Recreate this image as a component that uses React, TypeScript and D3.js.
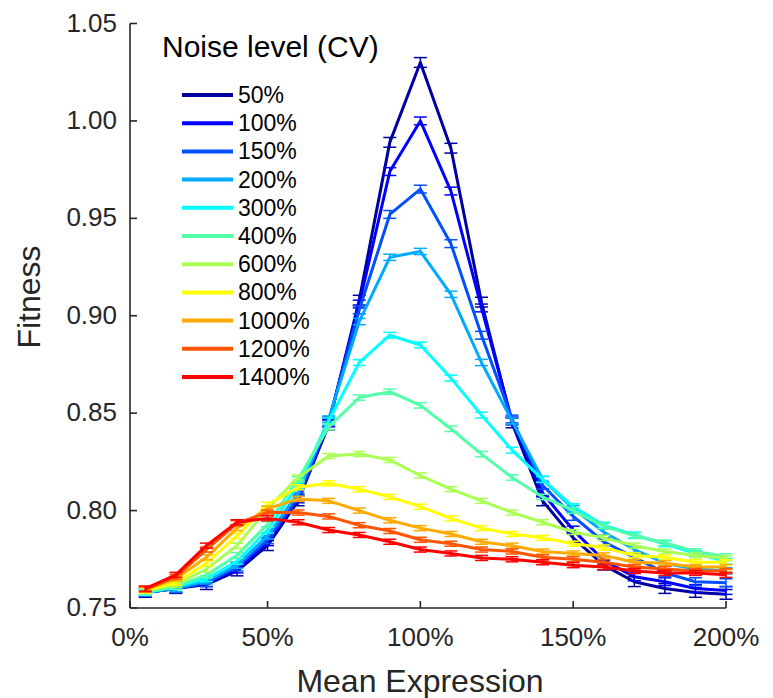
import React from "react";
import * as d3 from "d3";

const xValues = [10, 20, 30, 40, 50, 60, 70, 80, 90, 100, 110, 120, 130, 140, 150, 160, 170, 180, 190, 200];

const seriesNames = ["50%", "100%", "150%", "200%", "300%", "400%", "600%", "800%", "1000%", "1200%", "1400%"];
const seriesColors = ["#0000a0", "#0000ff", "#0050ff", "#00aaff", "#00ffff", "#55ffaa", "#aaff55", "#ffff00", "#ffaa00", "#ff5500", "#ff0000"];

const cv50 = [0.758, 0.760, 0.762, 0.769, 0.782, 0.805, 0.844, 0.908, 0.989, 1.030, 0.986, 0.907, 0.845, 0.805, 0.786, 0.772, 0.7635, 0.760, 0.758, 0.757];
const cv100 = [0.758, 0.760, 0.763, 0.770, 0.784, 0.806, 0.845, 0.906, 0.974, 1.000, 0.964, 0.904, 0.846, 0.809, 0.790, 0.7745, 0.766, 0.7635, 0.760, 0.759];
const cv150 = [0.758, 0.760, 0.763, 0.771, 0.785, 0.807, 0.846, 0.903, 0.952, 0.965, 0.937, 0.890, 0.847, 0.813, 0.797, 0.784, 0.776, 0.768, 0.7635, 0.763];
const cv200 = [0.758, 0.760, 0.764, 0.772, 0.787, 0.809, 0.847, 0.897, 0.930, 0.933, 0.911, 0.876, 0.846, 0.816, 0.801, 0.789, 0.780, 0.773, 0.770, 0.769];
const cv300 = [0.758, 0.761, 0.765, 0.774, 0.790, 0.813, 0.846, 0.876, 0.890, 0.885, 0.868, 0.849, 0.831, 0.816, 0.802, 0.7925, 0.7875, 0.783, 0.778, 0.774];
const cv400 = [0.758, 0.761, 0.767, 0.777, 0.793, 0.816, 0.843, 0.858, 0.861, 0.854, 0.842, 0.829, 0.817, 0.807, 0.800, 0.792, 0.787, 0.7835, 0.779, 0.7765];
const cv600 = [0.759, 0.762, 0.770, 0.782, 0.801, 0.817, 0.828, 0.829, 0.826, 0.818, 0.811, 0.805, 0.799, 0.794, 0.789, 0.786, 0.782, 0.779, 0.777, 0.7755];
const cv800 = [0.759, 0.763, 0.773, 0.787, 0.803, 0.812, 0.814, 0.811, 0.807, 0.802, 0.796, 0.791, 0.788, 0.786, 0.783, 0.781, 0.777, 0.776, 0.7735, 0.7735];
const cv1000 = [0.7595, 0.765, 0.776, 0.791, 0.801, 0.806, 0.805, 0.800, 0.795, 0.791, 0.788, 0.784, 0.782, 0.779, 0.778, 0.777, 0.7735, 0.773, 0.771, 0.771];
const cv1200 = [0.7595, 0.766, 0.780, 0.7935, 0.799, 0.799, 0.797, 0.7925, 0.7895, 0.785, 0.783, 0.780, 0.779, 0.776, 0.775, 0.7735, 0.771, 0.770, 0.769, 0.769];
const cv1400 = [0.760, 0.767, 0.782, 0.794, 0.796, 0.794, 0.790, 0.7875, 0.784, 0.780, 0.778, 0.7757, 0.775, 0.7735, 0.772, 0.771, 0.769, 0.768, 0.768, 0.767];

const seriesValues = [cv50, cv100, cv150, cv200, cv300, cv400, cv600, cv800, cv1000, cv1200, cv1400];
const seriesErrors = [0.0025, 0.002, 0.002, 0.0016, 0.0015, 0.0014, 0.0013, 0.0013, 0.0013, 0.0013, 0.0013];

const xTickValues = [5, 50, 100, 150, 200];
const xTickLabels = ["0%", "50%", "100%", "150%", "200%"];
const yTickValues = [0.75, 0.8, 0.85, 0.9, 0.95, 1.0, 1.05];

const legendTitle = "Noise level (CV)";
const xLabel = "Mean Expression";
const yLabel = "Fitness";

const W = 773;
const H = 698;
const FONT = "'Liberation Sans', Arial, Helvetica, sans-serif";
const AXIS = "#262626";

export default function App() {
  const x = d3.scaleLinear().domain([5, 200]).range([130, 726]);
  const y = d3.scaleLinear().domain([0.75, 1.05]).range([608, 23.5]);
  const line = d3
    .line<[number, number]>()
    .x((d) => x(d[0]))
    .y((d) => y(d[1]));
  const cap = 6.5;

  return (
    <svg
      width={W}
      height={H}
      style={{ position: "absolute", left: 0, top: 0, background: "#fff" }}
      fontFamily={FONT}
    >
      {/* data */}
      {seriesValues.map((vals, si) => {
        const pts = vals.map((v, i) => [xValues[i], v] as [number, number]);
        const err = seriesErrors[si];
        const col = seriesColors[si];
        return (
          <g key={si}>
            <path d={line(pts) || ""} fill="none" stroke={col} strokeWidth={3} strokeLinejoin="round" />
            {pts.map((p, i) => {
              const cx = x(p[0]);
              const y1 = y(p[1] + err);
              const y2 = y(p[1] - err);
              return (
                <g key={i} stroke={col} strokeWidth={1.5}>
                  <line x1={cx} x2={cx} y1={y1} y2={y2} />
                  <line x1={cx - cap} x2={cx + cap} y1={y1} y2={y1} />
                  <line x1={cx - cap} x2={cx + cap} y1={y2} y2={y2} />
                </g>
              );
            })}
          </g>
        );
      })}

      {/* axes */}
      <g stroke={AXIS} strokeWidth={1.6} fill="none">
        <line x1={x(5)} x2={x(200)} y1={y(0.75)} y2={y(0.75)} />
        <line x1={x(5)} x2={x(5)} y1={y(0.75)} y2={y(1.05)} />
        {xTickValues.map((t) => (
          <line key={"xt" + t} x1={x(t)} x2={x(t)} y1={y(0.75)} y2={y(0.75) - 7} />
        ))}
        {yTickValues.map((t) => (
          <line key={"yt" + t} x1={x(5)} x2={x(5) + 7} y1={y(t)} y2={y(t)} />
        ))}
      </g>
      {xTickValues.map((t, i) => (
        <text key={"xl" + t} x={x(t)} y={646} textAnchor="middle" fontSize={26} fill={AXIS}>
          {xTickLabels[i]}
        </text>
      ))}
      {yTickValues.map((t) => (
        <text key={"yl" + t} x={117} y={y(t) + 8} textAnchor="end" fontSize={26} fill={AXIS}>
          {t.toFixed(2)}
        </text>
      ))}
      <text x={420} y={692} textAnchor="middle" fontSize={32} fill={AXIS}>
        {xLabel}
      </text>
      <text transform="translate(40,297) rotate(-90)" textAnchor="middle" fontSize={32} fill={AXIS}>
        {yLabel}
      </text>

      {/* legend */}
      <text x={162} y={57} fontSize={30} fill="#000">
        {legendTitle}
      </text>
      {seriesNames.map((name, i) => {
        const ly = 95 + i * 28.2;
        return (
          <g key={name}>
            <line x1={182} x2={233} y1={ly} y2={ly} stroke={seriesColors[i]} strokeWidth={4} />
            <text x={238} y={ly + 8} fontSize={23} fill="#000">
              {name}
            </text>
          </g>
        );
      })}
    </svg>
  );
}
